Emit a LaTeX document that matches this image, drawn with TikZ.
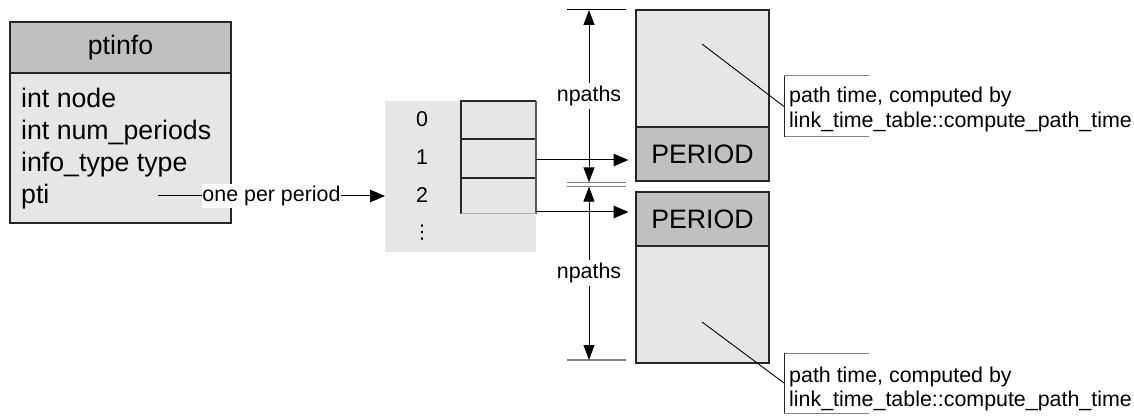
\documentclass[tikz,border=0pt]{standalone}
\usepackage{fontspec}
\setmainfont{Liberation Sans}
\newfontfamily\dotsfont{DejaVu Sans}
\usetikzlibrary{arrows.meta,calc}
\definecolor{hdrgray}{HTML}{C0C0C0}
\definecolor{bodygray}{HTML}{E6E6E6}
\definecolor{edge}{HTML}{262626}
\definecolor{dimgray}{HTML}{858585}
\definecolor{cellshade}{HTML}{5A5A5A}
\definecolor{cellfaint}{HTML}{B0B0B0}
\begin{document}
\begin{tikzpicture}[x=1pt,y=-1pt,
  bigtext/.style={font=\fontsize{26.7}{31}\selectfont},
  smalltext/.style={font=\fontsize{21.4}{25}\selectfont},
  plain/.style={inner sep=0pt, anchor=base west},
  region/.style={anchor=north west, inner sep=0pt, outer sep=0pt},
  outlined/.style={region, draw=edge, line width=1.6pt},
  celldark/.style={draw=edge, line width=1.3pt},
  cellside/.style={draw=cellshade, line width=1.3pt},
  cellbottom/.style={draw=cellfaint, line width=1pt},
  connector/.style={line width=1pt, -{Triangle[length=15pt,width=12.5pt]}},
  dimline/.style={line width=1pt, {Triangle[length=15pt,width=11pt]}-{Triangle[length=15pt,width=11pt]}},
  extdark/.style={line width=1pt, draw=black},
  extgray/.style={line width=1.3pt, draw=dimgray},
  leader/.style={line width=0.9pt, draw=black},
  bracketdark/.style={line width=1pt, draw=edge},
  bracketlight/.style={line width=1pt, draw=dimgray},
  tag/.style={smalltext, fill=white, inner xsep=0.5pt, inner ysep=2.5pt},
  dimtag/.style={smalltext, fill=white, inner xsep=1pt, inner ysep=3pt}
]
\useasboundingbox (0,0) rectangle (1134,419);

% the ptinfo record
\node[outlined, fill=hdrgray, bigtext, minimum width=221pt, minimum height=51pt] (pthead) at (10,22) {ptinfo};
\node[outlined, fill=bodygray, minimum width=221pt, minimum height=150pt] (ptbody) at (10,73) {};
\node[plain, bigtext] (fnode) at (21,108) {int node};
\node[plain, bigtext] (fnum) at (21,139.5) {int num\_periods};
\node[plain, bigtext] (ftype) at (21,171.5) {info\_type type};
\node[plain, bigtext] (fpti) at (21,204) {pti};

% per-period array
\node[region, fill=bodygray, minimum width=151pt, minimum height=151pt] (arr) at (385,101) {};
\node[region, minimum width=75pt, minimum height=38pt] (c0) at (461,101) {};
\node[region, minimum width=75pt, minimum height=39pt] (c1) at (461,139) {};
\node[region, minimum width=75pt, minimum height=36pt] (c2) at (461,178) {};
\draw[celldark] (c0.north east) -- (c0.north west) -- (c2.south west);
\draw[celldark] (c1.north west) -- (c1.north east) (c2.north west) -- (c2.north east);
\draw[cellside] (c0.north east) -- (c2.south east);
\draw[cellbottom] (c2.south west) -- (c2.south east);
\node[smalltext, inner sep=0pt, anchor=base] (i0) at (422,127) {0};
\node[smalltext, inner sep=0pt, anchor=base] (i1) at (422,165) {1};
\node[smalltext, inner sep=0pt, anchor=base] (i2) at (422,203) {2};
\node[font=\dotsfont\fontsize{19}{19}\selectfont, inner sep=0pt] (idots) at (422,233) {⋮};

% pointer from the record to the array
\coordinate (ptisrc) at (158,196);
\draw[connector] (ptisrc) -- node[tag] (ptilabel) {one per period} (ptisrc -| arr.west);

% period blocks
\node[outlined, fill=bodygray, minimum width=133pt, minimum height=117pt] (blk1) at (636,10) {};
\node[outlined, fill=hdrgray, bigtext, minimum width=133pt, minimum height=54pt] (per1) at (636,127) {PERIOD};
\node[outlined, fill=hdrgray, bigtext, minimum width=133pt, minimum height=54pt] (per2) at (636,192) {PERIOD};
\node[outlined, fill=bodygray, minimum width=133pt, minimum height=117pt] (blk2) at (636,246) {};

% array entries pointing at their periods
\coordinate (a1) at ([yshift=-1.5pt]c1.east);
\coordinate (a2) at ([yshift=2pt]c2.south east);
\draw[connector, shorten >=7.5pt] (a1) -- (a1 -| per1.west);
\draw[connector, shorten >=7.5pt] (a2) -- (a2 -| per2.west);

% size dimensions
\coordinate (dTop) at (589,10);
\coordinate (dMidA) at (589,182.3);
\coordinate (dMidB) at (589,186.7);
\coordinate (dBot) at (589,360);
\draw[extdark] ($(dTop)+(-22,0)$) -- ($(dTop)+(37,0)$);
\draw[extgray] ($(dMidA)+(-22,0)$) -- ($(dMidA)+(37,0)$);
\draw[extgray] ($(dMidB)+(-22,0)$) -- ($(dMidB)+(37,0)$);
\draw[extgray] ($(dBot)+(-22,0)$) -- ($(dBot)+(37,0)$);
\draw[dimline] (dTop) -- node[dimtag] (np1) {npaths} (dMidA);
\draw[dimline] (dMidB) -- node[dimtag] (np2) {npaths} (dBot);

% annotations
\coordinate (lead1) at (702,44);
\coordinate (lead2) at (702,322);
\node[region, minimum width=85pt, minimum height=61pt] (note1) at (784,76) {};
\node[region, minimum width=85pt, minimum height=60pt] (note2) at (784,353) {};
\draw[leader] (lead1) -- (note1.west);
\draw[leader] (lead2) -- (note2.west);
\draw[bracketlight] (note1.north west) -- (note1.north east) (note1.south west) -- (note1.south east);
\draw[bracketlight] (note2.north west) -- (note2.north east) (note2.south west) -- (note2.south east);
\draw[bracketdark] (note1.north west) -- (note1.south west);
\draw[bracketdark] (note2.north west) -- (note2.south west);
\node[plain, smalltext] (note1a) at (789,103) {path time, computed by};
\node[plain, smalltext] (note1b) at (789,127.5) {link\_time\_table::compute\_path\_time};
\node[plain, smalltext] (note2a) at (789,382) {path time, computed by};
\node[plain, smalltext] (note2b) at (789,406.5) {link\_time\_table::compute\_path\_time};
\end{tikzpicture}
\end{document}
